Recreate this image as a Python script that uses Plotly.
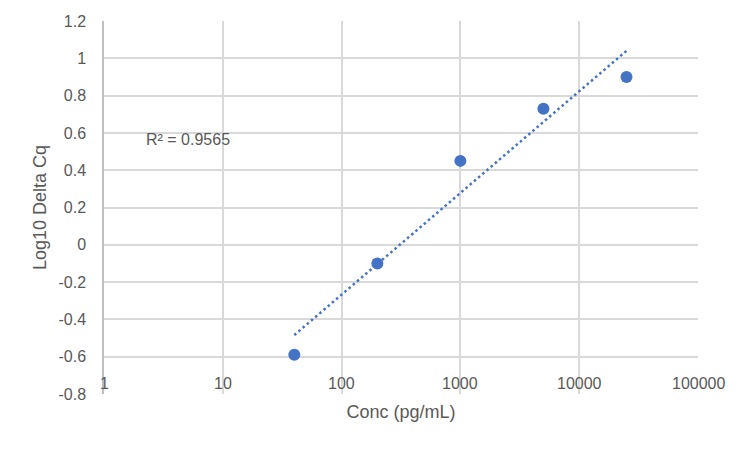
import numpy as np
import plotly.graph_objects as go

# standard curve data
conc = [40, 200, 1000, 5000, 25000]
log_delta_cq = [-0.59, -0.10, 0.45, 0.73, 0.90]

x_tickvals = [1, 10, 100, 1000, 10000, 100000]
x_ticktext = ["1", "10", "100", "1000", "10000", "100000"]
y_tickvals = [-0.8, -0.6, -0.4, -0.2, 0, 0.2, 0.4, 0.6, 0.8, 1.0, 1.2]
y_ticktext = ["-0.8", "-0.6", "-0.4", "-0.2", "0", "0.2", "0.4", "0.6", "0.8", "1", "1.2"]

x_axis_cross = -0.6   # horizontal axis crosses the y axis here
r2_label = "R² = 0.9565"

# log trendline, like Excel's: y = a*log10(x) + b over the data span
slope, intercept = np.polyfit(np.log10(conc), log_delta_cq, 1)
trend_x = [conc[0], conc[-1]]
trend_y = [slope * np.log10(v) + intercept for v in trend_x]

blue = "#4472C4"
grey_text = "#595959"
grid = "#D9D9D9"
axis_line = "#BFBFBF"
font_name = "Liberation Sans"

fig = go.Figure()

fig.add_trace(go.Scatter(
    x=trend_x, y=trend_y, mode="lines",
    line=dict(color=blue, width=2.5, dash="2.5px,3px"),
    showlegend=False, hoverinfo="skip"
))

fig.add_trace(go.Scatter(
    x=conc, y=log_delta_cq, mode="markers",
    marker=dict(color=blue, size=12),
    showlegend=False
))

# horizontal axis line sits at y = -0.6, not at the bottom
fig.add_shape(
    type="line", xref="paper", x0=0, x1=1, yref="y",
    y0=x_axis_cross, y1=x_axis_cross,
    line=dict(color=axis_line, width=1.5), layer="below"
)

# x tick labels hang under that crossing line
for v, t in zip(x_tickvals, x_ticktext):
    fig.add_annotation(
        x=np.log10(v), y=x_axis_cross, xref="x", yref="y",
        text=t, showarrow=False, yanchor="middle", yshift=-27,
        font=dict(family=font_name, size=16, color=grey_text)
    )

fig.add_annotation(
    x=np.log10(5.1), y=0.567, xref="x", yref="y",
    text=r2_label, showarrow=False,
    font=dict(family=font_name, size=16, color=grey_text)
)

# page body adds 8px, so margins are pulled in by that much
fig.update_layout(
    width=750, height=449,
    margin=dict(l=96, r=60, t=13, b=63),
    paper_bgcolor="white", plot_bgcolor="white",
    font=dict(family=font_name, size=16, color=grey_text),
    xaxis=dict(
        type="log", range=[0, 5],
        tickvals=x_tickvals, showticklabels=False,
        showgrid=True, gridcolor=grid, gridwidth=1.5,
        showline=False, zeroline=False, automargin=False,
        title=dict(text="Conc (pg/mL)", font=dict(size=18), standoff=11),
    ),
    yaxis=dict(
        range=[-0.8, 1.2],
        tickvals=y_tickvals, ticktext=y_ticktext,
        ticklabelstandoff=13,
        showgrid=True, gridcolor=grid, gridwidth=1.5,
        showline=True, linecolor=axis_line, linewidth=1.5,
        zeroline=False, automargin=False,
        title=dict(text="Log10 Delta Cq", font=dict(size=18), standoff=7),
    ),
)

fig.write_html("out.html")
